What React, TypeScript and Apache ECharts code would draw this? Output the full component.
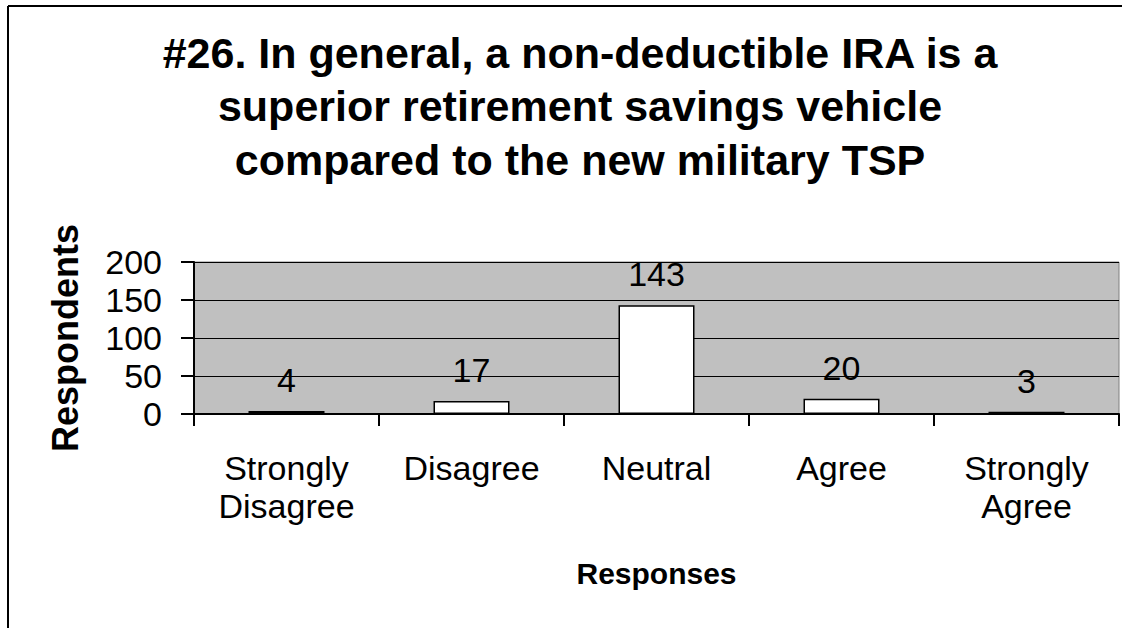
import React, { useEffect, useRef } from "react";
import * as echarts from "echarts";

const titleLines = [
  "#26. In general, a non-deductible IRA is a",
  "superior retirement savings vehicle",
  "compared to the new military TSP",
];
const categories = ["Strongly\nDisagree", "Disagree", "Neutral", "Agree", "Strongly\nAgree"];
const values = [4, 17, 143, 20, 3];
const yTicks = { min: 0, max: 200, interval: 50 };
const xAxisTitle = "Responses";
const yAxisTitle = "Respondents";

export default function App() {
  const ref = useRef<HTMLDivElement>(null);
  useEffect(() => {
    document.body.style.margin = "0";
    const chart = echarts.init(ref.current!, undefined, { renderer: "svg" });
    const font = "Arial, 'Liberation Sans', sans-serif";
    chart.setOption({
      animation: false,
      backgroundColor: "#ffffff",
      textStyle: { fontFamily: font, color: "#000" },
      title: {
        text: titleLines.join("\n"),
        left: 575,
        top: 21,
        textAlign: "center",
        textStyle: { fontSize: 43, fontWeight: "bold", lineHeight: 53.5, color: "#000", fontFamily: font },
      },
      graphic: [
        { type: "line", shape: { x1: 8, y1: 6, x2: 1122, y2: 6 }, style: { stroke: "#000", lineWidth: 2 } },
        { type: "line", shape: { x1: 8, y1: 6, x2: 8, y2: 628 }, style: { stroke: "#000", lineWidth: 2 } },
      ],
      grid: {
        left: 194,
        top: 262,
        width: 925,
        height: 152,
        show: true,
        backgroundColor: "#c0c0c0",
        borderColor: "#808080",
        borderWidth: 1,
      },
      xAxis: {
        type: "category",
        data: categories,
        name: xAxisTitle,
        nameLocation: "middle",
        nameGap: 144,
        nameTextStyle: { fontSize: 30, fontWeight: "bold", color: "#000", fontFamily: font },
        axisLine: { show: true, lineStyle: { color: "#000", width: 2 } },
        axisTick: { show: true, length: 12, lineStyle: { color: "#000", width: 2 } },
        axisLabel: { fontSize: 34, lineHeight: 38, color: "#000", margin: 35, interval: 0, fontFamily: font },
      },
      yAxis: {
        type: "value",
        min: yTicks.min,
        max: yTicks.max,
        interval: yTicks.interval,
        name: yAxisTitle,
        nameLocation: "middle",
        nameGap: 111,
        nameRotate: 90,
        nameTextStyle: { fontSize: 36, fontWeight: "bold", color: "#000", fontFamily: font },
        axisLine: { show: true, lineStyle: { color: "#000", width: 2 } },
        axisTick: { show: true, length: 13, lineStyle: { color: "#000", width: 2 } },
        axisLabel: { fontSize: 34, color: "#000", margin: 32, fontFamily: font },
        splitLine: { show: true, lineStyle: { color: "#000", width: 1 } },
      },
      series: [
        {
          type: "bar",
          data: values,
          barWidth: 76,
          itemStyle: { color: "#ffffff", borderColor: "#000", borderWidth: 1.5 },
          label: { show: true, position: "top", distance: 14, fontSize: 34, color: "#000", fontFamily: font },
        },
      ],
    });
    return () => chart.dispose();
  }, []);
  return <div ref={ref} style={{ width: 1132, height: 628 }} />;
}
